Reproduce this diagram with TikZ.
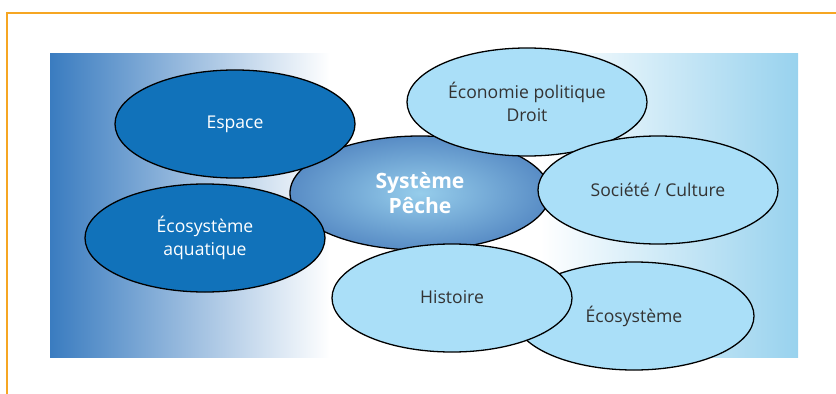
\documentclass[tikz,border=0pt]{standalone}
\usepackage{fontspec}
\setmainfont{Open Sans}
\definecolor{bleuFonce}{RGB}{17,114,186}
\definecolor{bleuClair}{RGB}{170,223,248}
\definecolor{bleuFond}{RGB}{58,124,192}
\definecolor{bleuMilieu}{RGB}{190,207,234}
\definecolor{cielFond}{RGB}{152,210,238}
\definecolor{orangeCadre}{RGB}{246,166,35}
\definecolor{texteGris}{RGB}{51,51,51}
\definecolor{pecheCentre}{RGB}{150,205,235}
\definecolor{pecheBord}{RGB}{88,140,197}
\usepackage{tikz}
\usetikzlibrary{shapes.geometric}

\begin{document}
\begin{tikzpicture}[
    x=0.03cm, y=-0.03cm,
    font=\fontsize{15}{19}\selectfont,
    domaine/.style={
        ellipse,
        draw=black,
        line width=1.1pt,
        inner sep=0pt,
        align=center,
        minimum width=7.2cm,
        minimum height=3.24cm
    },
    fonce/.style={
        domaine,
        fill=bleuFonce,
        text=white
    },
    clair/.style={
        domaine,
        fill=bleuClair,
        text=texteGris
    },
    centre/.style={
        domaine,
        inner color=pecheCentre,
        outer color=pecheBord,
        text=white,
        font=\fontsize{18}{22}\selectfont\bfseries,
        minimum width=7.8cm,
        minimum height=3.42cm
    }
]
\useasboundingbox (0,0) rectangle (836,394);

% CADRE
\draw[orangeCadre, line width=1.1pt] (7,394) -- (7,13) -- (836,13);

% FOND
\shade[left color=bleuFond, middle color=bleuMilieu, right color=white]
    (50,54) rectangle (330,357);
\fill[white] (329,54) rectangle (541,357);
\shade[left color=white, right color=cielFond]
    (540,54) rectangle (798,357);

% CENTRE
\node[centre] (peche) at (420,193) {Système\\Pêche};

% ELLIPSES
\node[clair] (ecosys) at (634,316) {\raisebox{-4pt}{Écosystème}};
\node[fonce] (espace) at (235,124) {Espace};
\node[fonce] (aquatique) at (205,238) {Écosystème\\aquatique};
\node[clair] (economie) at (527,102) {Économie politique\\Droit};
\node[clair] (societe) at (658,190) {Société / Culture};
\node[clair] (histoire) at (452,298) {\raisebox{2pt}{Histoire}};

\end{tikzpicture}
\end{document}
